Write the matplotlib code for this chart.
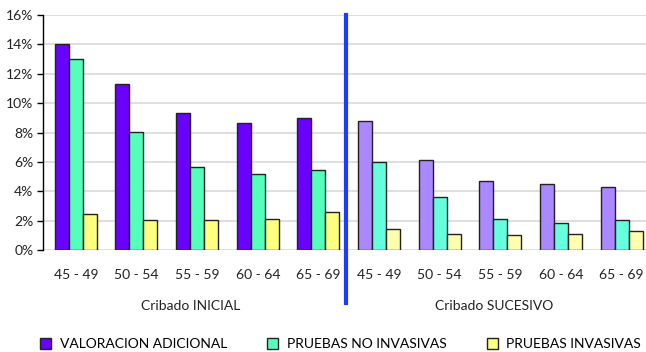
import matplotlib
matplotlib.use("Agg")
import matplotlib.pyplot as plt
from matplotlib.patches import Patch
import numpy as np

plt.rcParams['font.family'] = ['Lato', 'DejaVu Sans']

age_groups = ["45 - 49", "50 - 54", "55 - 59", "60 - 64", "65 - 69"]
phases = ["Cribado INICIAL", "Cribado SUCESIVO"]
series = ["VALORACION ADICIONAL", "PRUEBAS NO INVASIVAS", "PRUEBAS INVASIVAS"]

# Percentages per age group, initial screening round
inicial_valoracion = [14.0, 11.3, 9.35, 8.65, 9.0]
inicial_no_invasivas = [13.0, 8.05, 5.65, 5.2, 5.47]
inicial_invasivas = [2.43, 2.02, 2.02, 2.09, 2.6]

# Percentages per age group, successive screening rounds
sucesivo_valoracion = [8.75, 6.15, 4.72, 4.47, 4.28]
sucesivo_no_invasivas = [5.97, 3.63, 2.1, 1.85, 2.02]
sucesivo_invasivas = [1.41, 1.07, 1.0, 1.07, 1.27]

colors_inicial = ["#6A00FF", "#55FFBB", "#FFFF80"]
colors_sucesivo = ["#AA88FF", "#66FFDD", "#FFFFB0"]

fig = plt.figure(figsize=(6.46, 3.52), dpi=100)
ax = fig.add_axes([43 / 646, 102 / 352, 603 / 646, 235 / 352])

n = len(age_groups)
x_ini = np.arange(n)
x_suc = np.arange(n) + n
width = 0.23

ini = [inicial_valoracion, inicial_no_invasivas, inicial_invasivas]
suc = [sucesivo_valoracion, sucesivo_no_invasivas, sucesivo_invasivas]
for i in range(3):
    off = (i - 1) * width
    ax.bar(x_ini + off, ini[i], width, color=colors_inicial[i],
           edgecolor="#222222", linewidth=1.0, zorder=3)
    ax.bar(x_suc + off, suc[i], width, color=colors_sucesivo[i],
           edgecolor="#222222", linewidth=1.0, zorder=3)

ax.set_xlim(-0.54, 9.4)
ax.set_ylim(0, 16)
ax.set_yticks(np.arange(0, 17, 2))
ax.set_yticklabels([f"{v}%" for v in range(0, 17, 2)], fontsize=10, color="#222222")
ax.yaxis.grid(True, color="#D9D9D9", linewidth=1.2, zorder=0)
ax.set_axisbelow(True)

ax.set_xticks(np.concatenate([x_ini, x_suc]))
ax.set_xticklabels(age_groups + age_groups, fontsize=10, color="#222222")
ax.tick_params(axis="x", length=0, pad=14)
ax.tick_params(axis="y", length=4, width=1, direction="out", color="black", pad=3)

for side in ("top", "right", "bottom"):
    ax.spines[side].set_visible(False)
ax.spines["left"].set_color("black")
ax.spines["left"].set_linewidth(1.0)

# Separator between screening phases
ax.plot([4.45, 4.45], [1.0, -0.225], transform=ax.get_xaxis_transform(),
        color="#1E3CFF", linewidth=3, clip_on=False, zorder=4)

# Phase captions under the age groups
ax.text(np.mean(x_ini) - 0.1, -0.24, phases[0], transform=ax.get_xaxis_transform(),
        ha="center", va="center", fontsize=10, color="#222222")
ax.text(np.mean(x_suc) - 0.1, -0.24, phases[1], transform=ax.get_xaxis_transform(),
        ha="center", va="center", fontsize=10, color="#222222")

handles = [Patch(facecolor=c, edgecolor="#222222", linewidth=1.0) for c in colors_inicial]
fig.legend(handles, series, loc="center", bbox_to_anchor=(0.527, 0.022), ncol=3,
           frameon=False, fontsize=10, handlelength=0.8, handleheight=0.8,
           columnspacing=2.9, handletextpad=0.6, borderpad=0.2)

fig.savefig("out.png", dpi=100)
